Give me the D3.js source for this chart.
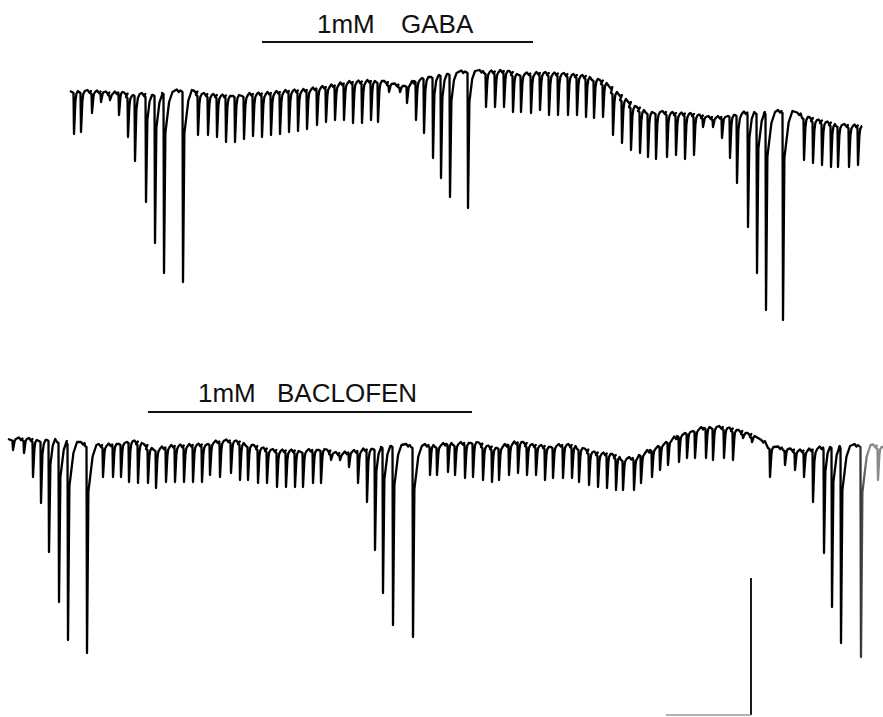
<!DOCTYPE html>
<html>
<head>
<meta charset="utf-8">
<script src="https://cdn.jsdelivr.net/npm/d3@7/dist/d3.min.js"></script>
<style>
  body { margin: 0; background: #fff; }
  svg { display: block; }
</style>
</head>
<body>
<div id="chart"></div>
<script>
const width = 883;
const height = 717;

// time in s, current in pA (0 = top of each record, inward = negative)

// record 1: 1mM GABA
const gabaTime = [7.4, 8.1, 9.2, 10.1, 11.0, 11.9, 12.8, 13.5, 14.6, 15.5, 16.4, 18.3, 19.8, 20.8, 21.7, 22.6,
    23.5, 24.4, 25.3, 26.2, 27.1, 28.0, 28.9, 29.8, 30.7, 31.7, 32.6, 33.5, 34.4, 35.3, 36.2, 37.1, 37.8,
    38.9, 40.0, 40.7, 41.6, 42.4, 43.3, 44.1, 45.0, 46.8, 48.6, 49.5, 50.4, 51.3, 52.1, 53.1, 54.0, 54.9,
    55.8, 56.8, 57.7, 58.6, 59.4, 60.3, 61.3, 62.2, 63.1, 64.0, 64.8, 65.6, 66.7, 67.6, 68.5, 69.4, 70.3,
    71.3, 72.2, 73.0, 73.7, 74.8, 75.7, 76.6, 78.3, 80.4, 81.3, 82.2, 83.1, 83.8, 84.9, 85.8];
const gabaBase = [-22, -22, -23, -23, -25, -23, -27, -25, -26, -25, -23, -21, -25, -26, -27, -27,
    -26, -26, -25, -25, -24, -23, -22, -22, -21, -19, -18, -16, -14, -13, -13, -12, -12,
    -15, -17, -16, -11, -8, -7, -5, -4, -2, -3, -3, -2, -5, -5, -5, -4, -5,
    -5, -6, -7, -8, -10, -14, -23, -30, -37, -41, -43, -43, -44, -45, -45, -46, -48,
    -49, -48, -46, -45, -43, -43, -43, -42, -48, -51, -53, -55, -56, -57, -57];
const gabaPeak = [-64, -62, -43, -32, -30, -45, -67, -91, -132, -173, -203, -212, -65, -65, -67, -72,
    -72, -69, -66, -67, -65, -64, -62, -61, -59, -55, -52, -50, -50, -53, -53, -50, -52,
    -22, -22, -33, -50, -63, -88, -108, -127, -138, -37, -37, -37, -42, -42, -43, -40, -45,
    -45, -45, -45, -47, -48, -47, -65, -73, -80, -83, -87, -89, -87, -85, -89, -85, -57,
    -57, -68, -88, -113, -157, -203, -240, -250, -90, -93, -95, -97, -97, -97, -95];
const gabaSpan = [7.0, 86.2];
const gabaApplied = [26.2, 53.3];
const gabaLabel = ["1mM", "GABA"];

// record 2: 1mM BACLOFEN
const baclofenTime = [1.3, 2.4, 3.3, 4.1, 4.9, 5.9, 6.8, 8.7, 10.3, 11.3, 12.1, 12.9, 13.8, 14.8, 15.6, 16.6,
    17.5, 18.4, 19.3, 20.2, 21.0, 22.0, 23.1, 24.0, 24.8, 25.8, 26.7, 27.7, 28.6, 29.5, 30.3, 31.3, 32.1,
    33.1, 34.0, 34.9, 35.8, 36.7, 37.5, 38.3, 39.3, 41.3, 43.0, 43.7, 44.8, 45.5, 46.5, 47.3, 48.3, 49.2,
    49.9, 50.9, 51.8, 52.7, 53.6, 54.5, 55.3, 56.3, 57.2, 57.9, 58.9, 59.8, 60.7, 61.6, 62.3, 63.4, 64.1,
    65.2, 66.0, 66.8, 67.9, 68.7, 69.5, 70.6, 71.3, 72.4, 73.3, 74.3, 75.2, 77.0, 78.5, 79.5, 80.4, 81.3,
    82.4, 83.2, 84.1, 86.1, 87.8];
const baclofenBase = [-10, -10, -11, -11, -10, -12, -13, -16, -17, -15, -14, -12, -14, -19, -20, -18,
    -17, -17, -16, -16, -14, -12, -12, -14, -16, -19, -21, -22, -22, -22, -22, -21, -20,
    -24, -25, -23, -22, -20, -19, -17, -16, -17, -16, -17, -14, -15, -14, -13, -17, -19,
    -18, -15, -13, -16, -17, -18, -17, -16, -17, -19, -23, -25, -25, -28, -30, -29, -25,
    -20, -16, -12, -6, -3, -1, 2, 2, 1, -1, -4, -7, -18, -20, -22, -22, -20,
    -18, -17, -17, -16, -18];
const baclofenPeak = [-20, -23, -47, -73, -122, -172, -210, -223, -47, -47, -47, -52, -53, -53, -58, -52,
    -52, -52, -52, -52, -45, -47, -43, -50, -50, -53, -53, -57, -57, -57, -57, -53, -53,
    -30, -30, -37, -53, -72, -120, -163, -195, -207, -45, -45, -42, -45, -48, -47, -50, -52,
    -50, -45, -43, -45, -45, -50, -48, -48, -48, -52, -55, -57, -58, -60, -60, -60, -53,
    -47, -40, -35, -32, -28, -28, -28, -30, -28, -30, -8, -12, -47, -35, -40, -47, -72,
    -123, -177, -213, -227, -50];
const baclofenSpan = [0.8, 88.3];
const baclofenApplied = [14.8, 47.2];
const baclofenLabel = ["1mM", "BACLOFEN"];

// calibration bar
const calTime = 8.5;
const calCurrent = 137;

const x = d3.scaleLinear().domain([0, 88.3]).range([0, width]);
const yGaba = d3.scaleLinear().domain([0, -250]).range([70, 320]);
const yBac = d3.scaleLinear().domain([0, -250]).range([430, 680]);

const svg = d3.select("#chart").append("svg")
    .attr("width", width)
    .attr("height", height)
    .style("font-family", "'Liberation Sans', Arial, Helvetica, sans-serif");

const line = d3.line().x(d => x(d[0])).y(d => d[1]);

// builds the trace: each event is a sharp fall to its peak and a recovery
// whose length grows with the amplitude, with a small tick between events
function tracePoints(times, base, peak, span, y) {
    const pts = [[span[0], y(base[0] + 1)]];
    times.forEach((t, i) => {
        const b = base[i], p = peak[i];
        const d = b - p;
        const rec = 0.25 + d / 300;
        pts.push([t - 0.2, y(b)]);
        pts.push([t - 0.05, y(b - 1)]);
        pts.push([t, y(p)]);
        pts.push([t + 0.14, y(b - d * 0.22)]);
        pts.push([t + rec * 0.6, y(b - d * 0.05)]);
        pts.push([t + rec, y(b + 1)]);
        const next = i < times.length - 1 ? times[i + 1] : span[1];
        const nb = i < times.length - 1 ? base[i + 1] : b;
        const mid = (t + rec + next) / 2;
        if (next - t - rec > 0.5) {
            pts.push([mid - 0.1, y((b + nb) / 2 + 2.5)]);
            pts.push([mid + 0.1, y((b + nb) / 2)]);
            pts.push([mid + 0.25, y((b + nb) / 2 + 1.5)]);
        }
    });
    pts.push([span[1], y(base[base.length - 1] + 1)]);
    return pts;
}

// fade at the right end of the lower record
const grad = svg.append("defs").append("linearGradient")
    .attr("id", "fade")
    .attr("gradientUnits", "userSpaceOnUse")
    .attr("x1", 0).attr("x2", width).attr("y1", 0).attr("y2", 0);
grad.append("stop").attr("offset", x(85.6) / width).attr("stop-color", "#000");
grad.append("stop").attr("offset", x(86.8) / width).attr("stop-color", "#8a8a8a");

svg.append("path")
    .datum(tracePoints(gabaTime, gabaBase, gabaPeak, gabaSpan, yGaba))
    .attr("d", line)
    .attr("fill", "none")
    .attr("stroke", "#000")
    .attr("stroke-width", 2.3)
    .attr("stroke-linejoin", "round");

svg.append("path")
    .datum(tracePoints(baclofenTime, baclofenBase, baclofenPeak, baclofenSpan, yBac))
    .attr("d", line)
    .attr("fill", "none")
    .attr("stroke", "url(#fade)")
    .attr("stroke-width", 2.3)
    .attr("stroke-linejoin", "round");

// drug application bars and labels
function drugBar(span, barY, label, textY, fontSize, gap) {
    svg.append("line")
        .attr("x1", x(span[0])).attr("x2", x(span[1]))
        .attr("y1", barY).attr("y2", barY)
        .attr("stroke", "#111")
        .attr("stroke-width", 1.8);
    svg.append("text")
        .attr("x", x(span[0]) + gap[0])
        .attr("y", textY)
        .attr("font-size", fontSize)
        .attr("fill", "#111")
        .text(label[0]);
    svg.append("text")
        .attr("x", x(span[0]) + gap[1])
        .attr("y", textY)
        .attr("font-size", fontSize)
        .attr("fill", "#111")
        .text(label[1]);
}
drugBar(gabaApplied, 42, gabaLabel, 33, 26, [55, 139]);
drugBar(baclofenApplied, 412, baclofenLabel, 402, 26, [50, 129]);

// calibration bar
const calX = 75.1;
const calBottom = -285;
svg.append("line")
    .attr("x1", x(calX)).attr("x2", x(calX))
    .attr("y1", yBac(calBottom)).attr("y2", yBac(calBottom + calCurrent))
    .attr("stroke", "#000")
    .attr("stroke-width", 1.8);
svg.append("line")
    .attr("x1", x(calX - calTime)).attr("x2", x(calX))
    .attr("y1", yBac(calBottom)).attr("y2", yBac(calBottom))
    .attr("stroke", "#999")
    .attr("stroke-width", 1.4);
</script>
</body>
</html>
